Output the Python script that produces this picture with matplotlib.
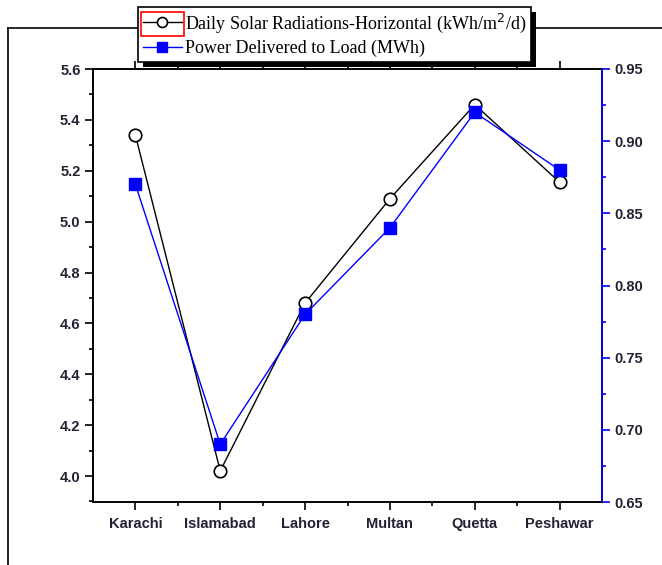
import numpy as np
import matplotlib
matplotlib.use("Agg")
import matplotlib.pyplot as plt
from matplotlib.lines import Line2D
from matplotlib.patches import Rectangle
from matplotlib.ticker import MultipleLocator, FixedLocator, FormatStrFormatter

cities = ["Karachi", "Islamabad", "Lahore", "Multan", "Quetta", "Peshawar"]
radiation = [5.34, 4.02, 4.68, 5.09, 5.46, 5.155]
power = [0.87, 0.69, 0.78, 0.84, 0.92, 0.88]

plt.rcParams['font.family'] = ['Liberation Sans', 'DejaVu Sans']

W, H = 662, 565
fig = plt.figure(figsize=(W / 100, H / 100), dpi=100)
ax = fig.add_axes([93 / W, 1 - 502 / H, (602 - 93) / W, (502 - 69) / H])
ax2 = ax.twinx()

x = np.arange(len(cities))
l1, = ax.plot(x, radiation, '-o', color='black', lw=1, mfc='white', mec='black',
              ms=9, mew=1.2, zorder=3)
l2, = ax2.plot(x, power, '-s', color='blue', lw=1, mfc='blue', mec='blue', ms=8.5)

ax.set_xlim(-0.5, 5.5)
ax.set_ylim(3.898, 5.6)
ax2.set_ylim(0.65, 0.95)

ax.set_xticks(x)
ax.set_xticklabels(cities, fontsize=10.5, fontweight='bold', color='#222233')
ax.xaxis.set_minor_locator(FixedLocator([0.5, 1.5, 2.5, 3.5, 4.5]))
ax.yaxis.set_major_locator(MultipleLocator(0.2))
ax.yaxis.set_minor_locator(MultipleLocator(0.1))
ax2.yaxis.set_major_locator(MultipleLocator(0.05))
ax2.yaxis.set_minor_locator(MultipleLocator(0.025))
ax.yaxis.set_major_formatter(FormatStrFormatter('%.1f'))
ax2.yaxis.set_major_formatter(FormatStrFormatter('%.2f'))

for lab in ax.get_yticklabels() + ax2.get_yticklabels():
    lab.set_fontsize(10.5)
    lab.set_fontweight('bold')
    lab.set_color('#222233')

ax.tick_params(axis='both', which='major', direction='out', length=6, width=1.2, pad=3)
ax.tick_params(axis='both', which='minor', direction='out', length=3, width=1.2)
ax.tick_params(axis='x', top=True, which='both')
ax.tick_params(axis='x', which='major', pad=5)
ax2.tick_params(axis='y', which='major', direction='out', length=6, width=1.2,
                color='blue', pad=3)
ax2.tick_params(axis='y', which='minor', direction='out', length=3, width=1.2,
                color='blue')

for s in ax.spines.values():
    s.set_linewidth(1.2)
for s in ax2.spines.values():
    s.set_linewidth(1.2)
ax2.spines['right'].set_color('blue')

# outer frame lines
fig.add_artist(Line2D([8 / W, 8 / W], [0, 1 - 28 / H], color='black', lw=1.2))
fig.add_artist(Line2D([8 / W, 1], [1 - 28 / H, 1 - 28 / H], color='black', lw=1.2))

leg = fig.legend([l1, l2],
                 ["Daily Solar Radiations-Horizontal (kWh/m$^2$/d)",
                  "Power Delivered to Load (MWh)"],
                 loc='upper left', bbox_to_anchor=(138 / W, 1 - 7 / H),
                 prop={'family': 'Liberation Serif', 'size': 13},
                 frameon=True, fancybox=False, shadow=False, framealpha=1,
                 handlelength=2.2, handletextpad=0.15, borderpad=0.25,
                 labelspacing=0.3, borderaxespad=0, markerscale=0.8)
leg.get_frame().set_edgecolor('black')
leg.get_frame().set_linewidth(1.2)
leg.set_zorder(10)

# black drop shadow behind legend
fig.canvas.draw()
bb = leg.get_window_extent().transformed(fig.transFigure.inverted())
fig.add_artist(Rectangle((bb.x0 + 5 / W, bb.y0 - 5 / H), bb.width, bb.height,
                         facecolor='black', edgecolor='none', zorder=9))

# red box around the first legend handle
fig.add_artist(Rectangle((141 / W, 1 - 36 / H), 43 / W, 24 / H, fill=False,
                         edgecolor='red', lw=1.2, zorder=11))

fig.savefig("out.png", dpi=100)
